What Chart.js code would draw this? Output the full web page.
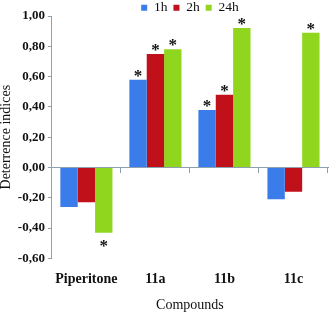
<!DOCTYPE html>
<html>
<head>
<meta charset="utf-8">
<script src="https://cdn.jsdelivr.net/npm/chart.js@4/dist/chart.umd.min.js"></script>
<style>
  body { margin: 0; background: #fff; }
</style>
</head>
<body>
<canvas id="deterrenceChart" width="331" height="313"></canvas>
<script>
// data
const compounds = ['Piperitone', '11a', '11b', '11c'];
const seriesNames = ['1h', '2h', '24h'];
const values1h = [-0.26, 0.58, 0.38, -0.21];
const values2h = [-0.23, 0.75, 0.48, -0.16];
const values24h = [-0.43, 0.78, 0.92, 0.89];
// significance marks (*) per series
const signif1h = [false, true, true, false];
const signif2h = [false, true, true, false];
const signif24h = [true, true, true, true];
const yTicks = [-0.6, -0.4, -0.2, 0, 0.2, 0.4, 0.6, 0.8, 1.0];

const colors = ['#3b7ceb', '#c0111b', '#91d61e'];
const axisColor = '#8e9fae';
const serif = "'Liberation Serif', 'Times New Roman', serif";
const signifs = [signif1h, signif2h, signif24h];

// draws the asterisks over/under the bars
const starPlugin = {
    id: 'stars',
    afterDatasetsDraw(chart) {
        const ctx = chart.ctx;
        ctx.save();
        ctx.fillStyle = '#111';
        ctx.font = 'bold 17px ' + serif;
        ctx.textAlign = 'center';
        ctx.textBaseline = 'alphabetic';
        chart.data.datasets.forEach((ds, i) => {
            const meta = chart.getDatasetMeta(i);
            meta.data.forEach((bar, j) => {
                if (!signifs[i][j]) return;
                const y = ds.data[j] >= 0 ? bar.y + 1 : bar.y + 18;
                ctx.fillText('*', bar.x, y);
            });
        });
        ctx.restore();
    }
};

const ctx = document.getElementById('deterrenceChart').getContext('2d');

const chart = new Chart(ctx, {
    type: 'bar',
    data: {
        labels: compounds,
        datasets: [values1h, values2h, values24h].map((vals, i) => ({
            label: seriesNames[i],
            data: vals,
            backgroundColor: colors[i],
            borderWidth: 0,
            categoryPercentage: 0.755,
            barPercentage: 1
        }))
    },
    options: {
        responsive: false,
        devicePixelRatio: 1,
        animation: false,
        layout: { padding: { left: -2, right: 3, top: -5, bottom: -1 } },
        plugins: {
            tooltip: { enabled: false },
            legend: {
                position: 'top',
                fullSize: false,
                maxHeight: 21,
                labels: {
                    boxWidth: 6,
                    boxHeight: 6,
                    padding: 6,
                    color: '#111',
                    font: { family: serif, size: 13.5 }
                }
            }
        },
        scales: {
            x: {
                grid: { display: false },
                border: { display: false },
                ticks: {
                    color: '#111',
                    padding: 5,
                    maxRotation: 0,
                    minRotation: 0,
                    autoSkip: false,
                    font: { family: serif, size: 14, weight: 'bold' }
                },
                title: {
                    display: true,
                    text: 'Compounds',
                    color: '#111',
                    padding: { top: 4, bottom: 0 },
                    font: { family: serif, size: 14 }
                }
            },
            xZero: {
                type: 'category',
                labels: compounds,
                position: { y: 0 },
                offset: true,
                grid: {
                    offset: true,
                    drawOnChartArea: false,
                    tickLength: 5,
                    color: axisColor
                },
                border: { color: axisColor },
                ticks: { display: false }
            },
            y: {
                min: -0.6,
                max: 1.0,
                afterBuildTicks(scale) {
                    scale.ticks = yTicks.map(v => ({ value: v }));
                },
                grid: {
                    drawOnChartArea: false,
                    tickLength: 4,
                    color: axisColor
                },
                border: { color: axisColor },
                ticks: {
                    color: '#111',
                    padding: 3,
                    font: { family: serif, size: 13, weight: 'bold' },
                    callback: v => (Math.abs(v) < 1e-9 ? 0 : v).toFixed(2).replace('.', ',')
                },
                title: {
                    display: true,
                    text: 'Deterrence indices',
                    color: '#111',
                    padding: { top: 0, bottom: 0 },
                    font: { family: serif, size: 14 }
                }
            }
        }
    },
    plugins: [starPlugin]
});
</script>
</body>
</html>
